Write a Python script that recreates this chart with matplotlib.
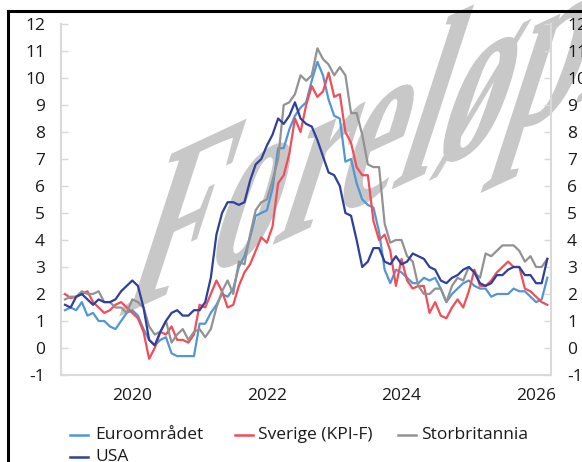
import numpy as np
import matplotlib
matplotlib.use("Agg")
import matplotlib.pyplot as plt
from matplotlib.lines import Line2D
from matplotlib.textpath import TextPath
from matplotlib.font_manager import FontProperties
from matplotlib.patches import PathPatch
from matplotlib.transforms import Affine2D

# ---------------- data (monthly, Jan 2019 - Mar 2026) ----------------
start_year = 2019
series_names = ["Euroområdet", "Sverige (KPI-F)", "Storbritannia", "USA"]

euro = [1.4, 1.5, 1.4, 1.7, 1.2, 1.3, 1.0, 1.0, 0.8, 0.7, 1.0, 1.3,
        1.4, 1.2, 0.7, 0.3, 0.1, 0.3, 0.4, -0.2, -0.3, -0.3, -0.3, -0.3,
        0.9, 0.9, 1.3, 1.6, 2.0, 1.9, 2.2, 3.0, 3.4, 4.1, 4.9, 5.0,
        5.1, 5.9, 7.4, 7.4, 8.1, 8.6, 8.9, 9.1, 9.9, 10.6, 10.1, 9.2,
        8.6, 8.5, 6.9, 7.0, 6.1, 5.5, 5.3, 5.2, 4.3, 2.9, 2.4, 2.9,
        2.8, 2.6, 2.4, 2.4, 2.6, 2.5, 2.6, 2.2, 1.7, 2.0, 2.2, 2.4,
        2.5, 2.3, 2.2, 2.2, 1.9, 2.0, 2.0, 2.0, 2.2, 2.1, 2.1, 1.9,
        1.7, 1.8, 2.6]

sverige = [2.0, 1.85, 1.9, 2.0, 2.1, 1.7, 1.5, 1.3, 1.4, 1.6, 1.7, 1.5,
           1.3, 1.1, 0.6, -0.4, 0.0, 0.6, 0.5, 0.8, 0.3, 0.3, 0.2, 0.5,
           1.6, 1.5, 2.0, 2.5, 2.1, 1.5, 1.6, 2.3, 2.8, 3.1, 3.6, 4.1,
           3.9, 4.5, 6.1, 6.4, 7.2, 8.5, 8.0, 9.0, 9.7, 9.3, 9.5, 10.2,
           9.3, 9.4, 8.0, 7.6, 6.7, 6.4, 6.4, 4.7, 4.0, 4.2, 3.6, 2.3,
           3.3, 2.5, 2.2, 2.3, 2.3, 1.3, 1.7, 1.2, 1.1, 1.5, 1.8, 1.5,
           2.1, 2.9, 2.3, 2.3, 2.5, 2.8, 3.0, 3.2, 3.0, 3.0, 2.2, 2.1,
           1.9, 1.7, 1.6]

storbritannia = [1.8, 1.9, 1.9, 2.1, 2.0, 2.0, 2.1, 1.7, 1.7, 1.5, 1.5, 1.3,
                 1.8, 1.7, 1.5, 0.8, 0.5, 0.6, 1.0, 0.2, 0.5, 0.7, 0.3, 0.6,
                 0.7, 0.4, 0.7, 1.5, 2.1, 2.5, 2.0, 3.2, 3.1, 4.2, 5.1, 5.4,
                 5.5, 6.2, 7.0, 9.0, 9.1, 9.4, 10.1, 9.9, 10.1, 11.1, 10.7, 10.5,
                 10.1, 10.4, 10.1, 8.7, 8.7, 7.9, 6.8, 6.7, 6.7, 4.6, 3.9, 4.0,
                 4.0, 3.4, 3.2, 2.3, 2.0, 2.0, 2.2, 2.2, 1.7, 2.3, 2.6, 2.5,
                 3.0, 2.8, 2.6, 3.5, 3.4, 3.6, 3.8, 3.8, 3.8, 3.6, 3.2, 3.4,
                 3.0, 3.0, 3.3]

usa = [1.6, 1.5, 1.9, 2.0, 1.8, 1.6, 1.8, 1.7, 1.7, 1.8, 2.1, 2.3,
       2.5, 2.3, 1.5, 0.3, 0.1, 0.6, 1.0, 1.3, 1.4, 1.2, 1.2, 1.4,
       1.4, 1.7, 2.6, 4.2, 5.0, 5.4, 5.4, 5.3, 5.4, 6.2, 6.8, 7.0,
       7.5, 7.9, 8.5, 8.3, 8.6, 9.1, 8.5, 8.3, 8.2, 7.7, 7.1, 6.5,
       6.4, 6.0, 5.0, 4.9, 4.0, 3.0, 3.2, 3.7, 3.7, 3.2, 3.1, 3.4,
       3.1, 3.2, 3.5, 3.4, 3.3, 3.0, 2.9, 2.5, 2.4, 2.6, 2.7, 2.9,
       3.0, 2.8, 2.4, 2.3, 2.4, 2.7, 2.7, 2.9, 3.0, 3.0, 2.7, 2.7,
       2.4, 2.4, 3.3]

x_tick_years = [2020, 2022, 2024, 2026]
x_tick_labels = ["2020", "2022", "2024", "2026"]
y_ticks = list(range(-1, 13))
watermark_text = "Foreløpig"

colors = ["#5296d5", "#f04e58", "#929292", "#2f3f9c"]

# ---------------- figure ----------------
W, H = 582, 462
plt.rcParams['font.family'] = ['Open Sans', 'DejaVu Sans']
fig = plt.figure(figsize=(W / 100, H / 100), dpi=100)
fig.patch.set_facecolor("white")

# watermark: slanted serif text drawn behind the chart
fp = FontProperties(family="Liberation Serif", weight="bold")
tp = TextPath((0, 0), watermark_text, size=1, prop=fp)
phi, psi = np.deg2rad(25), np.deg2rad(72)   # baseline / letter-up directions
su, sv = 152, 262                            # px per em along each direction
ox, oy = 116, 318                            # baseline start (px from top-left)
M = np.array([[su * np.cos(phi), sv * np.cos(psi), ox],
              [su * np.sin(phi), sv * np.sin(psi), H - oy],
              [0, 0, 1]])
wm = PathPatch(tp, transform=Affine2D(M), facecolor="#c8c8c8",
               edgecolor="none", zorder=-5)
fig.add_artist(wm)

ax = fig.add_axes([61 / W, 1 - 375 / H, 490 / W, 351 / H])
ax.patch.set_alpha(0)

t = start_year + np.arange(len(euro)) / 12.0
for vals, col in zip([euro, sverige, storbritannia, usa], colors):
    ax.plot(t, vals, color=col, lw=1.6, solid_joinstyle="round")

ax.set_xlim(start_year - 4 / 67.3, start_year + 486 / 67.3)
ax.set_ylim(-1, 12)
ax.set_yticks(y_ticks)
ax.set_yticklabels([str(v) for v in y_ticks])
ax.set_xticks(x_tick_years)
ax.set_xticklabels(x_tick_labels)

axis_col = "#d9d9d9"
for s in ["left", "right", "bottom"]:
    ax.spines[s].set_color(axis_col)
    ax.spines[s].set_linewidth(1.5)
ax.spines["top"].set_visible(False)

ax.tick_params(axis="y", which="both", direction="in", length=5, width=1,
               color=axis_col, left=True, right=True, labelleft=True,
               labelright=True, labelsize=12.5, labelcolor="#1a1a1a", pad=11.5)
ax.tick_params(axis="x", length=0, labelsize=12.5, labelcolor="#1a1a1a", pad=9)

# legend (manual, row-wise like the reference)
leg_items = [(0, 70, 95, 435), (1, 235, 258, 435), (2, 398, 421, 435), (3, 70, 95, 457)]
for idx, lx, tx, ly in leg_items:
    fig.add_artist(Line2D([lx / W, (lx + 18) / W], [1 - ly / H, 1 - ly / H],
                          color=colors[idx], lw=1.8, transform=fig.transFigure))
    fig.text(tx / W, 1 - ly / H, series_names[idx], fontsize=12.5,
             color="#1a1a1a", ha="left", va="center")

# black frame lines (top and left)
fig.add_artist(Line2D([7.5 / W, 1.0], [1 - 10.5 / H, 1 - 10.5 / H], color="black",
                      lw=2.2, transform=fig.transFigure))
fig.add_artist(Line2D([7.5 / W, 7.5 / W], [1 - 10.5 / H, 0.0], color="black",
                      lw=2.2, transform=fig.transFigure))

fig.savefig("out.png", dpi=100)
